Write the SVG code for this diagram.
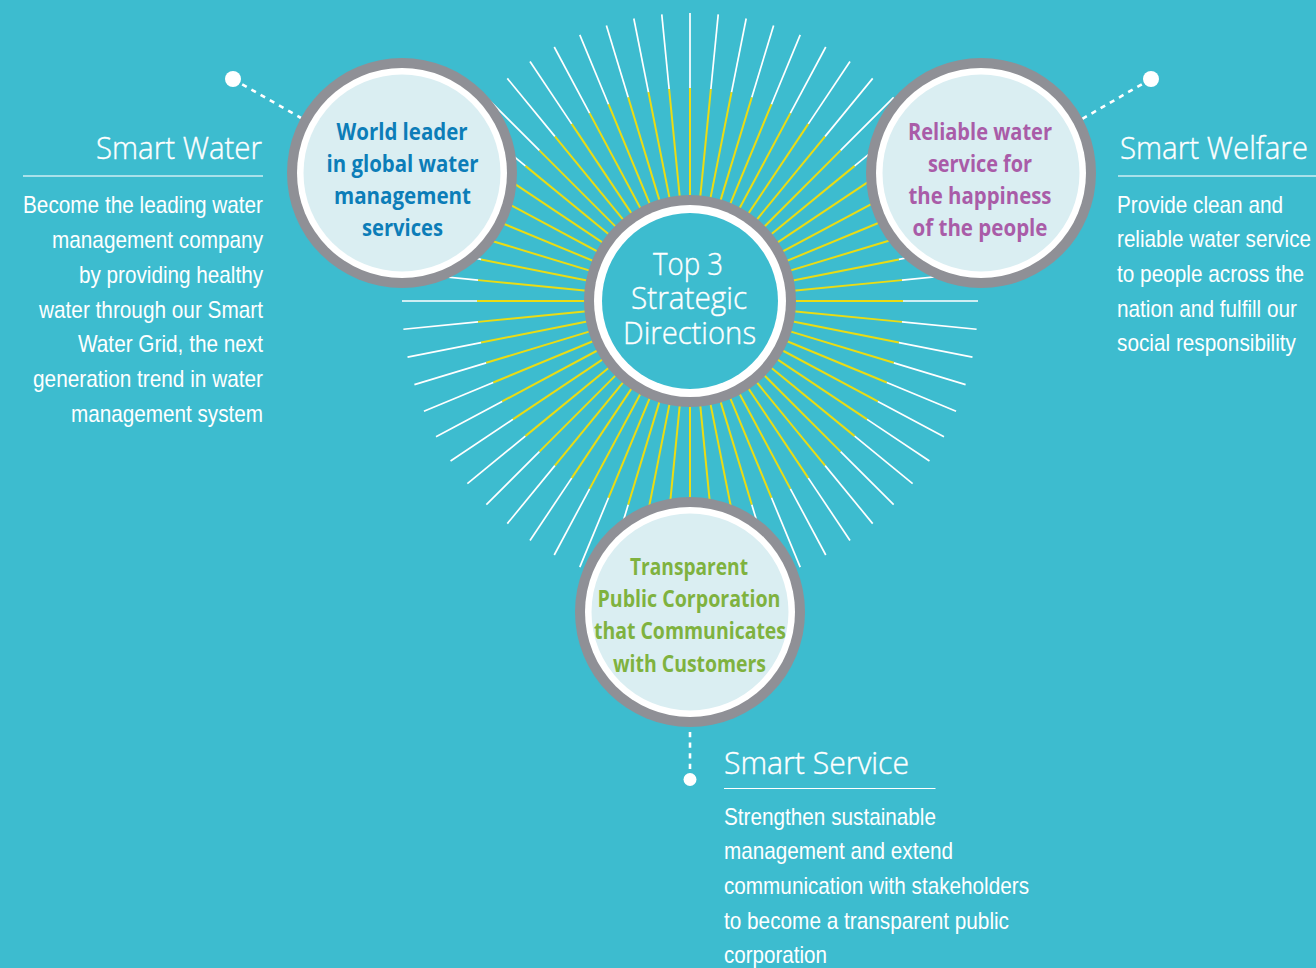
<svg xmlns="http://www.w3.org/2000/svg" xmlns:xlink="http://www.w3.org/1999/xlink" width="1316" height="968" viewBox="0 0 1316 968">
<style>
text{font-family:"Open Sans","Noto Sans","Liberation Sans",sans-serif}
.body{font-family:"Liberation Sans",Arial,sans-serif;font-size:24px;fill:#fff}
.title{font-size:32px;fill:#fff;font-weight:300;stroke:#fff;stroke-width:.4}
.hub{font-size:32px;fill:#fff;text-anchor:middle;font-weight:300;stroke:#fff;stroke-width:.4}
.lbl{font-size:23.5px;font-weight:700;text-anchor:middle}
.ring{fill:#8f9096}.gap{fill:#fff}.face{fill:#daeef2}
.rule{stroke:#fff;stroke-width:1.3;opacity:.75}
.dash{stroke:#fff;stroke-width:2.6;stroke-dasharray:5.2 5.4;fill:none}
.y{stroke:#eadc14;stroke-width:2}.w{stroke:#fff;stroke-width:1.7}
</style>
<defs>
<g id="ray"><line class="y" x1="690" y1="205" x2="690" y2="88"/><line class="w" x1="690" y1="88" x2="690" y2="13"/></g>
</defs>
<rect width="1316" height="968" fill="#3dbccf"/>
<g id="connectors">
<g id="rays">
<use xlink:href="#ray" transform="rotate(0 690 301)"/><use xlink:href="#ray" transform="rotate(5.625 690 301)"/><use xlink:href="#ray" transform="rotate(11.25 690 301)"/><use xlink:href="#ray" transform="rotate(16.875 690 301)"/><use xlink:href="#ray" transform="rotate(22.5 690 301)"/><use xlink:href="#ray" transform="rotate(28.125 690 301)"/><use xlink:href="#ray" transform="rotate(33.75 690 301)"/><use xlink:href="#ray" transform="rotate(39.375 690 301)"/>
<use xlink:href="#ray" transform="rotate(45 690 301)"/><use xlink:href="#ray" transform="rotate(50.625 690 301)"/><use xlink:href="#ray" transform="rotate(56.25 690 301)"/><use xlink:href="#ray" transform="rotate(61.875 690 301)"/><use xlink:href="#ray" transform="rotate(67.5 690 301)"/><use xlink:href="#ray" transform="rotate(73.125 690 301)"/><use xlink:href="#ray" transform="rotate(78.75 690 301)"/><use xlink:href="#ray" transform="rotate(84.375 690 301)"/>
<use xlink:href="#ray" transform="rotate(90 690 301)"/><use xlink:href="#ray" transform="rotate(95.625 690 301)"/><use xlink:href="#ray" transform="rotate(101.25 690 301)"/><use xlink:href="#ray" transform="rotate(106.875 690 301)"/><use xlink:href="#ray" transform="rotate(112.5 690 301)"/><use xlink:href="#ray" transform="rotate(118.125 690 301)"/><use xlink:href="#ray" transform="rotate(123.75 690 301)"/><use xlink:href="#ray" transform="rotate(129.375 690 301)"/>
<use xlink:href="#ray" transform="rotate(135 690 301)"/><use xlink:href="#ray" transform="rotate(140.625 690 301)"/><use xlink:href="#ray" transform="rotate(146.25 690 301)"/><use xlink:href="#ray" transform="rotate(151.875 690 301)"/><use xlink:href="#ray" transform="rotate(157.5 690 301)"/><use xlink:href="#ray" transform="rotate(163.125 690 301)"/><use xlink:href="#ray" transform="rotate(168.75 690 301)"/><use xlink:href="#ray" transform="rotate(174.375 690 301)"/>
<use xlink:href="#ray" transform="rotate(180 690 301)"/><use xlink:href="#ray" transform="rotate(185.625 690 301)"/><use xlink:href="#ray" transform="rotate(191.25 690 301)"/><use xlink:href="#ray" transform="rotate(196.875 690 301)"/><use xlink:href="#ray" transform="rotate(202.5 690 301)"/><use xlink:href="#ray" transform="rotate(208.125 690 301)"/><use xlink:href="#ray" transform="rotate(213.75 690 301)"/><use xlink:href="#ray" transform="rotate(219.375 690 301)"/>
<use xlink:href="#ray" transform="rotate(225 690 301)"/><use xlink:href="#ray" transform="rotate(230.625 690 301)"/><use xlink:href="#ray" transform="rotate(236.25 690 301)"/><use xlink:href="#ray" transform="rotate(241.875 690 301)"/><use xlink:href="#ray" transform="rotate(247.5 690 301)"/><use xlink:href="#ray" transform="rotate(253.125 690 301)"/><use xlink:href="#ray" transform="rotate(258.75 690 301)"/><use xlink:href="#ray" transform="rotate(264.375 690 301)"/>
<use xlink:href="#ray" transform="rotate(270 690 301)"/><use xlink:href="#ray" transform="rotate(275.625 690 301)"/><use xlink:href="#ray" transform="rotate(281.25 690 301)"/><use xlink:href="#ray" transform="rotate(286.875 690 301)"/><use xlink:href="#ray" transform="rotate(292.5 690 301)"/><use xlink:href="#ray" transform="rotate(298.125 690 301)"/><use xlink:href="#ray" transform="rotate(303.75 690 301)"/><use xlink:href="#ray" transform="rotate(309.375 690 301)"/>
<use xlink:href="#ray" transform="rotate(315 690 301)"/><use xlink:href="#ray" transform="rotate(320.625 690 301)"/><use xlink:href="#ray" transform="rotate(326.25 690 301)"/><use xlink:href="#ray" transform="rotate(331.875 690 301)"/><use xlink:href="#ray" transform="rotate(337.5 690 301)"/><use xlink:href="#ray" transform="rotate(343.125 690 301)"/><use xlink:href="#ray" transform="rotate(348.75 690 301)"/><use xlink:href="#ray" transform="rotate(354.375 690 301)"/>
</g>
<line class="dash" x1="233" y1="79" x2="301" y2="118"/>
<circle cx="233" cy="79" r="8" fill="#fff"/>
<line class="dash" x1="1151" y1="79" x2="1082" y2="119"/>
<circle cx="1151" cy="79" r="8" fill="#fff"/>
<line class="dash" x1="690" y1="732" x2="690" y2="779"/>
<circle cx="690" cy="779.5" r="6.5" fill="#fff"/>
</g>
<g id="hub">
<circle class="ring" cx="690" cy="301" r="106"/><circle class="gap" cx="690" cy="301" r="96"/><circle cx="690" cy="301" r="88" fill="#3dbccf"/>
<text class="hub" x="688" y="274.500" textLength="70" lengthAdjust="spacingAndGlyphs">Top 3</text>
<text class="hub" x="689" y="309" textLength="116" lengthAdjust="spacingAndGlyphs">Strategic</text>
<text class="hub" x="689.500" y="344" textLength="133" lengthAdjust="spacingAndGlyphs">Directions</text>
</g>
<g id="node-water">
<circle class="ring" cx="402" cy="173" r="115"/><circle class="gap" cx="402" cy="173" r="105"/><circle class="face" cx="402" cy="173" r="98.5"/>
<g fill="#0c7db8">
<text class="lbl" x="402" y="140" textLength="131" lengthAdjust="spacingAndGlyphs">World leader</text>
<text class="lbl" x="402.500" y="172" textLength="152" lengthAdjust="spacingAndGlyphs">in global water</text>
<text class="lbl" x="402.500" y="204" textLength="137" lengthAdjust="spacingAndGlyphs">management</text>
<text class="lbl" x="402.500" y="236" textLength="81" lengthAdjust="spacingAndGlyphs">services</text>
</g>
</g>
<g id="node-welfare">
<circle class="ring" cx="981" cy="173" r="115"/><circle class="gap" cx="981" cy="173" r="105"/><circle class="face" cx="981" cy="173" r="98.5"/>
<g fill="#a95ca8">
<text class="lbl" x="980" y="140" textLength="144" lengthAdjust="spacingAndGlyphs">Reliable water</text>
<text class="lbl" x="980" y="172" textLength="104" lengthAdjust="spacingAndGlyphs">service for</text>
<text class="lbl" x="980" y="204" textLength="143" lengthAdjust="spacingAndGlyphs">the happiness</text>
<text class="lbl" x="980" y="236" textLength="135" lengthAdjust="spacingAndGlyphs">of the people</text>
</g>
</g>
<g id="node-service">
<circle class="ring" cx="690" cy="612" r="115"/><circle class="gap" cx="690" cy="612" r="105"/><circle class="face" cx="690" cy="612" r="98.5"/>
<g fill="#7fb23f">
<text class="lbl" x="689" y="575" textLength="118" lengthAdjust="spacingAndGlyphs">Transparent</text>
<text class="lbl" x="689" y="607" textLength="183" lengthAdjust="spacingAndGlyphs">Public Corporation</text>
<text class="lbl" x="690" y="639" textLength="192" lengthAdjust="spacingAndGlyphs">that Communicates</text>
<text class="lbl" x="689.500" y="672" textLength="153" lengthAdjust="spacingAndGlyphs">with Customers</text>
</g>
</g>
<g id="text-water">
<text class="title" x="96" y="159" textLength="166" lengthAdjust="spacingAndGlyphs">Smart Water</text>
<line class="rule" x1="23" y1="176" x2="263" y2="176"/>
<text class="body" x="23" y="213" textLength="240" lengthAdjust="spacingAndGlyphs">Become the leading water</text>
<text class="body" x="52" y="248" textLength="211" lengthAdjust="spacingAndGlyphs">management company</text>
<text class="body" x="79" y="283" textLength="184" lengthAdjust="spacingAndGlyphs">by providing healthy</text>
<text class="body" x="39" y="317.500" textLength="224" lengthAdjust="spacingAndGlyphs">water through our Smart</text>
<text class="body" x="78" y="352" textLength="185" lengthAdjust="spacingAndGlyphs">Water Grid, the next</text>
<text class="body" x="33" y="387" textLength="230" lengthAdjust="spacingAndGlyphs">generation trend in water</text>
<text class="body" x="71" y="422" textLength="192" lengthAdjust="spacingAndGlyphs">management system</text>
</g>
<g id="text-welfare">
<text class="title" x="1120" y="159" textLength="188" lengthAdjust="spacingAndGlyphs">Smart Welfare</text>
<line class="rule" x1="1118" y1="176" x2="1316" y2="176"/>
<text class="body" x="1117" y="212.500" textLength="166" lengthAdjust="spacingAndGlyphs">Provide clean and</text>
<text class="body" x="1117" y="247" textLength="194" lengthAdjust="spacingAndGlyphs">reliable water service</text>
<text class="body" x="1117" y="282" textLength="187" lengthAdjust="spacingAndGlyphs">to people across the</text>
<text class="body" x="1117" y="316.500" textLength="180" lengthAdjust="spacingAndGlyphs">nation and fulfill our</text>
<text class="body" x="1117" y="351" textLength="179" lengthAdjust="spacingAndGlyphs">social responsibility</text>
</g>
<g id="text-service">
<text class="title" x="724" y="774" textLength="185" lengthAdjust="spacingAndGlyphs">Smart Service</text>
<line x1="724" y1="788.500" x2="935.500" y2="788.500" stroke="#fff" stroke-width="1.2"/>
<text class="body" x="724" y="824.500" textLength="212" lengthAdjust="spacingAndGlyphs">Strengthen sustainable</text>
<text class="body" x="724" y="859" textLength="229" lengthAdjust="spacingAndGlyphs">management and extend</text>
<text class="body" x="724" y="893.500" textLength="305" lengthAdjust="spacingAndGlyphs">communication with stakeholders</text>
<text class="body" x="724" y="928.500" textLength="285" lengthAdjust="spacingAndGlyphs">to become a transparent public</text>
<text class="body" x="724" y="963" textLength="103" lengthAdjust="spacingAndGlyphs">corporation</text>
</g>
</svg>
